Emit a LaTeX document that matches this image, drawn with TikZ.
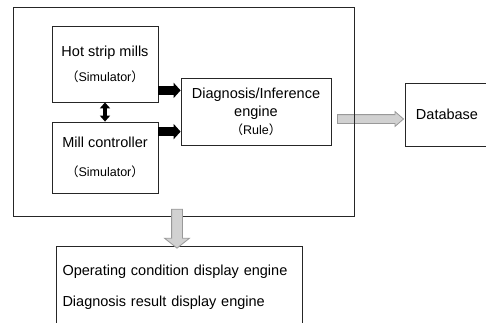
\documentclass[tikz,border=0pt]{standalone}
\usepackage{fontspec}
\setmainfont{Liberation Sans}
\newfontfamily\cjk{Noto Sans CJK JP}
\usetikzlibrary{shapes.arrows, arrows.meta, calc}
\tikzset{block/.style = {rectangle, draw=black!85, line width=0.8pt, align=center, inner sep=0pt, font=\fontsize{14.5}{17}\selectfont}}
\tikzset{flow/.style = {single arrow, draw=black!40, fill=black!18, line width=0.8pt, single arrow head indent=0pt}}
\tikzset{arrow/.style = {line width=9pt, -{Triangle[length=7pt,width=15pt]}}}
\tikzset{dblarrow/.style = {line width=4pt, {Triangle[length=6pt,width=10pt]}-{Triangle[length=6pt,width=10pt]}}}
\newcommand{\paren}[1]{{\fontsize{12.5}{15}\selectfont{\cjk（}#1{\cjk）}}}

\begin{document}
\begin{tikzpicture}[x=1pt, y=1pt, node distance=93.5pt]
	\useasboundingbox (0,0) rectangle (486,-322);
	\clip (0,0) rectangle (486,-322);
	\node (hsm) 	[block, minimum width=106pt, minimum height=76pt] at (105,-64) 	{Hot strip mills\\[8pt]\paren{Simulator}};
	\node (mc) 		[block, minimum width=106pt, minimum height=71pt, below of=hsm] 	{Mill controller\\[12pt]\paren{Simulator}};
	\node (die) 	[block, minimum width=150pt, minimum height=67pt, right of=hsm, xshift=57.5pt, yshift=-47.5pt] 	{Diagnosis/Inference\\[1pt]engine\\[1pt]\paren{Rule}};
	\node (db) 		[block, minimum width=84pt, minimum height=63pt, right of=die, xshift=97.5pt, yshift=-3pt] 	{Database};
	
	\path (die.east) -- (db.west) node[flow, midway, yshift=-6pt, inner xsep=0pt, inner ysep=4pt, minimum height=66pt, single arrow head extend=3pt, single arrow tip angle=82] (todb) {};
	
	\node (system) 	[block, minimum width=341pt, minimum height=209pt] at (183.5,-111.5) 	{};
	
	\draw [arrow] ($(hsm.south east)+(0,12)$) -- ($(die.west |- hsm.south)+(0,12)$);
	\draw [arrow] ($(mc.north east)+(0,-10)$) -- ($(die.west |- mc.north)+(0,-10)$);
	\draw [dblarrow] (hsm) -- (mc);
	
	\node (disp) 	[block, anchor=north, align=left, text width=233pt, inner xsep=6.5pt, inner ysep=19pt, minimum width=246pt] at (179,-246) 	{Operating condition display engine\\[14pt]Diagnosis result display engine};
	\node (todisp) 	[flow, shape border rotate=270, inner sep=5pt, minimum height=39pt, single arrow head extend=7pt, single arrow tip angle=103] at ($(disp.north)+(-2,19.5)$) {};
\end{tikzpicture}
\end{document}
